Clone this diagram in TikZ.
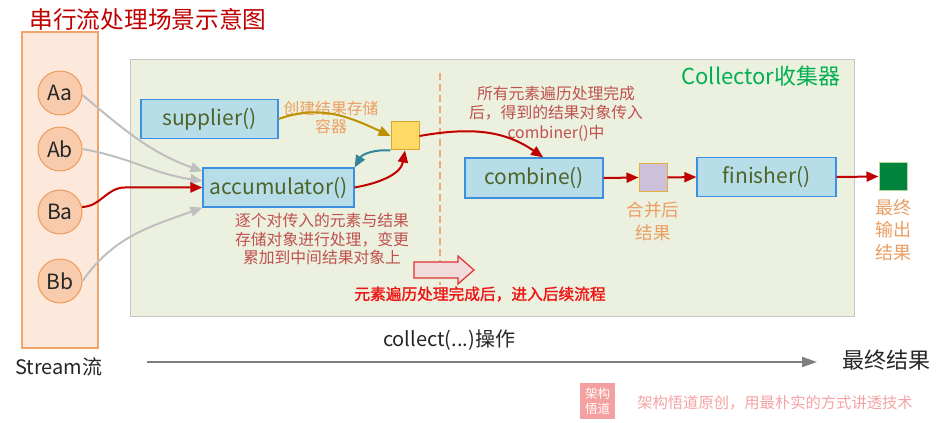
\documentclass[tikz,border=0pt]{standalone}
\usepackage{fontspec}
\setmainfont{Noto Sans CJK SC}
\newfontfamily\boldcjk[FakeBold=1.6]{Noto Sans CJK SC}
\usetikzlibrary{arrows.meta,calc}
\definecolor{titlered}{HTML}{C00000}
\definecolor{colfill}{HTML}{FDE9DC}
\definecolor{coldraw}{HTML}{F2A46A}
\definecolor{circfill}{HTML}{F8CBAD}
\definecolor{circdraw}{HTML}{EE9A58}
\definecolor{panelfill}{HTML}{EBF1DE}
\definecolor{paneldraw}{HTML}{C6C6C6}
\definecolor{collgreen}{HTML}{00B050}
\definecolor{dashor}{HTML}{EBAA7C}
\definecolor{boxfill}{HTML}{B7DEE8}
\definecolor{boxblue}{HTML}{3D8FE0}
\definecolor{boxtext}{HTML}{4F6228}
\definecolor{yelfill}{HTML}{FFD966}
\definecolor{yeldraw}{HTML}{D4A72C}
\definecolor{purfill}{HTML}{CCC0DA}
\definecolor{purdraw}{HTML}{E0B040}
\definecolor{grnfill}{HTML}{00843D}
\definecolor{grndraw}{HTML}{B5D99C}
\definecolor{ortext}{HTML}{EB9E62}
\definecolor{drtext}{HTML}{C0504D}
\definecolor{brightred}{HTML}{F01515}
\definecolor{arrgray}{HTML}{BFBFBF}
\definecolor{arrgold}{HTML}{BF9000}
\definecolor{arrteal}{HTML}{31849B}
\definecolor{arrred}{HTML}{C00000}
\definecolor{axisgray}{HTML}{7F7F7F}
\definecolor{wmpink}{HTML}{F6A3A3}
\definecolor{wmbox}{HTML}{F5A0A0}
\definecolor{blkfill}{HTML}{F2DCDB}
\definecolor{blkdraw}{HTML}{E03030}
\begin{document}
\begin{tikzpicture}[x=1pt,y=1pt,
  lbl/.style={inner sep=0pt, align=center},
  fnbox/.style={draw=boxblue, fill=boxfill, line width=1.2pt, minimum height=39pt,
    text=boxtext, font=\fontsize{21}{24}\selectfont, inner sep=0pt},
  elem/.style={circle, draw=circdraw, fill=circfill, line width=1pt, minimum size=44pt,
    inner sep=0pt, font=\fontsize{21}{24}\selectfont, text=black!85},
  sq/.style={minimum size=28pt, inner sep=0pt, line width=1pt},
  tip/.style={-{Triangle[length=12pt,width=10pt]}},
  redarr/.style={draw=arrred, line width=2pt, tip},
  grayarr/.style={draw=arrgray, line width=2pt, tip},
]
\useasboundingbox (0,0) rectangle (948,423);
\fill[white] (0,0) rectangle (948,423);

% title
\node[lbl, text=titlered, font=\fontsize{23.7}{26}\selectfont] (title) at (148,404) {串行流处理场景示意图};

% stream column
\node[draw=coldraw, fill=colfill, line width=1.2pt, minimum width=76pt, minimum height=316pt, inner sep=0pt] (col) at (60,233) {};
\node[elem] (Aa) at (60,330) {Aa};
\node[elem] (Ab) at (60,274) {Ab};
\node[elem] (Ba) at (60,211) {Ba};
\node[elem] (Bb) at (60,142) {Bb};
\node[lbl, font=\fontsize{20}{24}\selectfont, text=black!85] (stream) at (59,56) {Stream流};

% collector panel
\node[draw=paneldraw, fill=panelfill, line width=1pt, minimum width=724pt, minimum height=257pt, inner sep=0pt] (panel) at (492,234.5) {};
\node[lbl, text=collgreen, font=\fontsize{22}{26}\selectfont] (colltitle) at (761,347) {Collector收集器};

\coordinate (d1) at (440,350);
\coordinate (d2) at (440,138);
\draw[dashor, line width=1.5pt, dash pattern=on 7pt off 4pt] (d1) -- (d2);

% function boxes
\node[fnbox, minimum width=137pt] (sup) at (209.5,304) {supplier()};
\node[fnbox, minimum width=151pt] (acc) at (278.5,235.5) {accumulator()};
\node[fnbox, minimum width=138pt, minimum height=40pt] (comb) at (534,245) {combine()};
\node[fnbox, minimum width=139pt] (fin) at (766.5,246) {finisher()};

% squares
\node[sq, draw=yeldraw, fill=yelfill] (yel) at (405,287) {};
\node[sq, draw=purdraw, fill=purfill] (pur) at (653,245.5) {};
\node[sq, draw=grndraw, fill=grnfill] (grn) at (893,246.5) {};

% texts
\node[lbl, text=ortext, font=\fontsize{15.8}{18}\selectfont] (t1) at (331,306) {创建结果存储\\容器};
\node[lbl, text=drtext, font=\fontsize{15.8}{19.5}\selectfont] (t2) at (556,309.5) {所有元素遍历处理完成\\后，得到的结果对象传入\\combiner()中};
\node[lbl, text=drtext, font=\fontsize{15.8}{18.5}\selectfont] (t3) at (322,184) {逐个对传入的元素与结果\\存储对象进行处理，变更\\累加到中间结果对象上};
\node[lbl, text=brightred, font=\boldcjk\fontsize{15.7}{18}\selectfont] (t4) at (480,129) {元素遍历处理完成后，进入后续流程};
\node[lbl, text=ortext, font=\fontsize{17.5}{23}\selectfont] (t5) at (653,201.5) {合并后\\结果};
\node[lbl, text=ortext, font=\fontsize{18}{22.5}\selectfont] (t6) at (893,193) {最终\\输出\\结果};

% block arrow
\draw[draw=blkdraw, fill=blkfill, line width=1.2pt]
  (414,161) -- (458,161) -- (458,167) -- (474,153) -- (458,139) -- (458,145) -- (414,145) -- cycle;

% input arrows
\draw[grayarr] (Aa.-5) to[out=-40,in=160] (acc.168);
\draw[grayarr] (Ab.east) to[out=-10,in=172] (acc.175);
\coordinate (bamid) at (125,235.5);
\draw[redarr] (Ba.13) to[out=0,in=180] (bamid) -- (acc.west);
\draw[grayarr] (Bb.east) to[out=55,in=200] (acc.south west);

% container arrows
\draw[draw=arrgold, line width=2pt, tip] (sup.east) to[out=20,in=155] (yel.west);
\draw[draw=arrteal, line width=2pt, tip] (yel.south west) to[out=175,in=60] (acc.north east);
\draw[redarr] (acc.east) to[out=10,in=-100] (yel.south);
\draw[redarr] (yel.east) to[out=10,in=145] (comb.66);

% right chain
\draw[redarr] (comb.east) -- (pur.west);
\draw[redarr] (pur.east) -- (fin.west);
\draw[redarr] (fin.east) -- (grn.west);

% bottom axis
\coordinate (axs) at (147,61);
\coordinate (axe) at (817,61);
\draw[draw=axisgray, line width=2pt, -{Triangle[length=15pt,width=10pt]}] (axs) -- (axe);
\node[lbl, font=\fontsize{20}{24}\selectfont, text=black!85] (collect) at (449,83) {collect(...)操作};
\node[lbl, font=\fontsize{22}{26}\selectfont, text=black!85] (final) at (886,63) {最终结果};

% watermark
\node[fill=wmbox, minimum width=35pt, minimum height=36pt, inner sep=0pt, text=white, align=center, font=\fontsize{12.5}{15}\selectfont] (wm) at (597.5,22) {架构\\悟道};
\node[lbl, text=wmpink, font=\fontsize{15.3}{18}\selectfont] (wmtext) at (775,20) {架构悟道原创，用最朴实的方式讲透技术};
\end{tikzpicture}
\end{document}
